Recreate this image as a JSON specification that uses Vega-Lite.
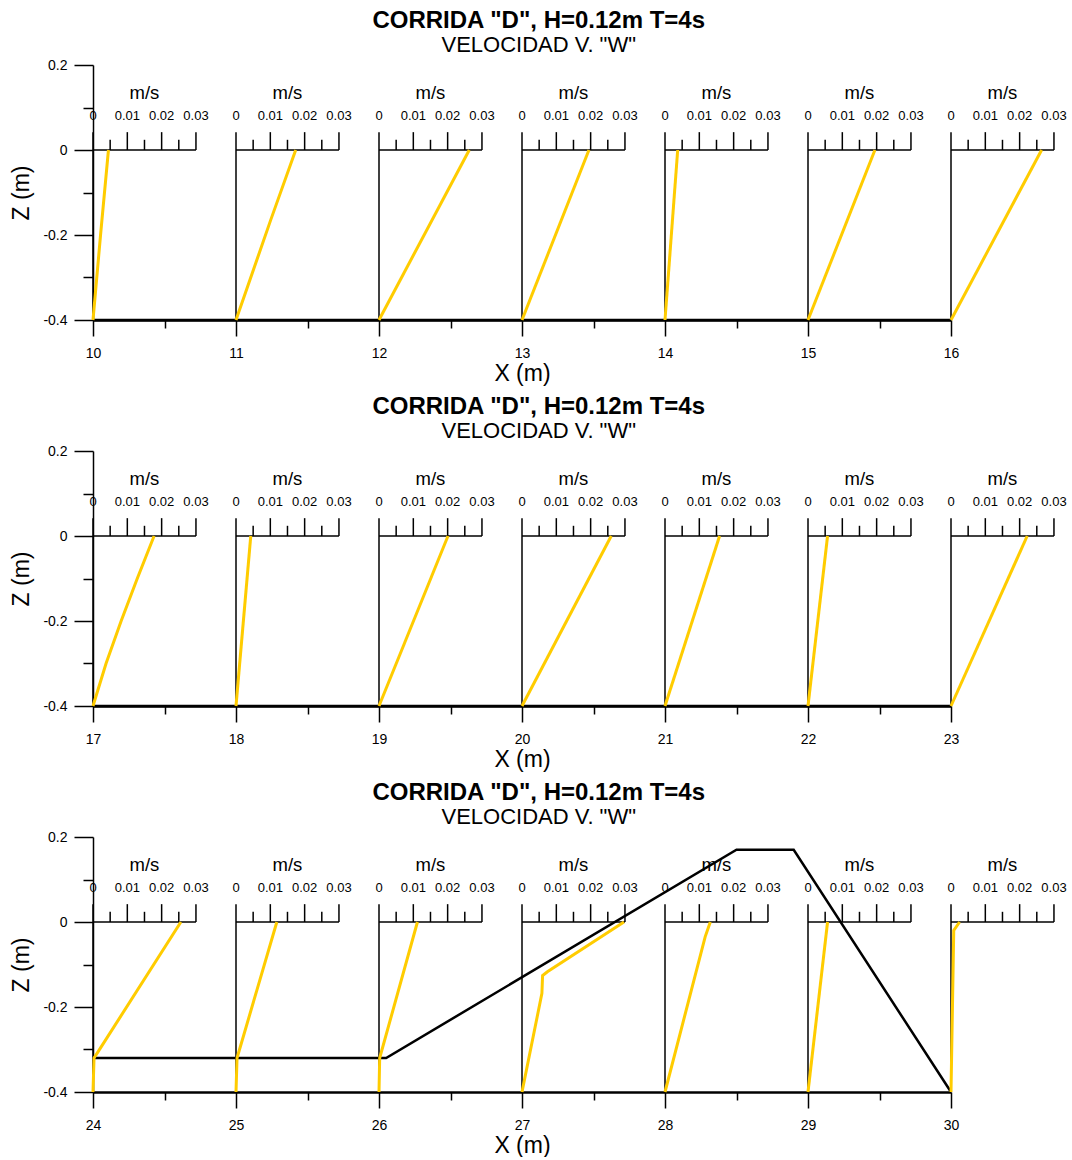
{
 "$schema": "https://vega.github.io/schema/vega-lite/v6.json",
 "padding": {"top": 9, "left": 10, "right": 2, "bottom": 0},
 "background": "white",
 "spacing": 10,
 "config": {
  "font": "Liberation Sans",
  "view": {"stroke": null},
  "axis": {"grid": false, "domainColor": "black", "tickColor": "black", "labelColor": "black", "titleColor": "black", "titleFontWeight": "normal", "labelFont": "Liberation Sans", "titleFont": "Liberation Sans", "tickWidth": 1.5, "domainWidth": 1.5},
  "title": {"font": "Liberation Sans", "fontSize": 24, "fontWeight": "bold", "color": "black", "subtitleFont": "Liberation Sans", "subtitleFontSize": 22, "subtitleColor": "black", "subtitleFontWeight": "normal", "anchor": "middle", "frame": "bounds", "offset": 2, "subtitlePadding": 2}
 },
 "datasets": {
  "stations": [
   {"panel": 1, "station": 10, "ticks": [0, 0.005, 0.01, 0.015, 0.02, 0.025, 0.03]},
   {"panel": 1, "station": 11, "ticks": [0, 0.005, 0.01, 0.015, 0.02, 0.025, 0.03]},
   {"panel": 1, "station": 12, "ticks": [0, 0.005, 0.01, 0.015, 0.02, 0.025, 0.03]},
   {"panel": 1, "station": 13, "ticks": [0, 0.005, 0.01, 0.015, 0.02, 0.025, 0.03]},
   {"panel": 1, "station": 14, "ticks": [0, 0.005, 0.01, 0.015, 0.02, 0.025, 0.03]},
   {"panel": 1, "station": 15, "ticks": [0, 0.005, 0.01, 0.015, 0.02, 0.025, 0.03]},
   {"panel": 1, "station": 16, "ticks": [0, 0.005, 0.01, 0.015, 0.02, 0.025, 0.03]},
   {"panel": 2, "station": 17, "ticks": [0, 0.005, 0.01, 0.015, 0.02, 0.025, 0.03]},
   {"panel": 2, "station": 18, "ticks": [0, 0.005, 0.01, 0.015, 0.02, 0.025, 0.03]},
   {"panel": 2, "station": 19, "ticks": [0, 0.005, 0.01, 0.015, 0.02, 0.025, 0.03]},
   {"panel": 2, "station": 20, "ticks": [0, 0.005, 0.01, 0.015, 0.02, 0.025, 0.03]},
   {"panel": 2, "station": 21, "ticks": [0, 0.005, 0.01, 0.015, 0.02, 0.025, 0.03]},
   {"panel": 2, "station": 22, "ticks": [0, 0.005, 0.01, 0.015, 0.02, 0.025, 0.03]},
   {"panel": 2, "station": 23, "ticks": [0, 0.005, 0.01, 0.015, 0.02, 0.025, 0.03]},
   {"panel": 3, "station": 24, "ticks": [0, 0.005, 0.01, 0.015, 0.02, 0.025, 0.03]},
   {"panel": 3, "station": 25, "ticks": [0, 0.005, 0.01, 0.015, 0.02, 0.025, 0.03]},
   {"panel": 3, "station": 26, "ticks": [0, 0.005, 0.01, 0.015, 0.02, 0.025, 0.03]},
   {"panel": 3, "station": 27, "ticks": [0, 0.005, 0.01, 0.015, 0.02, 0.025, 0.03]},
   {"panel": 3, "station": 28, "ticks": [0, 0.005, 0.01, 0.015, 0.02, 0.025, 0.03]},
   {"panel": 3, "station": 29, "ticks": [0, 0.005, 0.01, 0.015, 0.02, 0.025, 0.03]},
   {"panel": 3, "station": 30, "ticks": [0, 0.005, 0.01, 0.015, 0.02, 0.025, 0.03]}
  ],
  "profiles": [
   {"panel": 1, "station": 10, "z": -0.4, "w": 0}, {"panel": 1, "station": 10, "z": -0.2, "w": 0.0022}, {"panel": 1, "station": 10, "z": 0, "w": 0.0045},
   {"panel": 1, "station": 11, "z": -0.4, "w": 0}, {"panel": 1, "station": 11, "z": -0.165, "w": 0.0101}, {"panel": 1, "station": 11, "z": 0, "w": 0.0174},
   {"panel": 1, "station": 12, "z": -0.4, "w": 0}, {"panel": 1, "station": 12, "z": 0, "w": 0.0263},
   {"panel": 1, "station": 13, "z": -0.4, "w": 0}, {"panel": 1, "station": 13, "z": 0, "w": 0.0195},
   {"panel": 1, "station": 14, "z": -0.4, "w": 0}, {"panel": 1, "station": 14, "z": 0, "w": 0.0037},
   {"panel": 1, "station": 15, "z": -0.4, "w": 0}, {"panel": 1, "station": 15, "z": 0, "w": 0.0195},
   {"panel": 1, "station": 16, "z": -0.4, "w": 0}, {"panel": 1, "station": 16, "z": 0, "w": 0.0264},
   {"panel": 2, "station": 17, "z": -0.4, "w": 0}, {"panel": 2, "station": 17, "z": -0.3, "w": 0.0038}, {"panel": 2, "station": 17, "z": -0.2, "w": 0.0082}, {"panel": 2, "station": 17, "z": -0.1, "w": 0.0129}, {"panel": 2, "station": 17, "z": 0, "w": 0.0178},
   {"panel": 2, "station": 18, "z": -0.4, "w": 0}, {"panel": 2, "station": 18, "z": 0, "w": 0.0043},
   {"panel": 2, "station": 19, "z": -0.4, "w": 0}, {"panel": 2, "station": 19, "z": 0, "w": 0.0201},
   {"panel": 2, "station": 20, "z": -0.4, "w": 0}, {"panel": 2, "station": 20, "z": 0, "w": 0.026},
   {"panel": 2, "station": 21, "z": -0.4, "w": 0}, {"panel": 2, "station": 21, "z": 0, "w": 0.0159},
   {"panel": 2, "station": 22, "z": -0.4, "w": 0}, {"panel": 2, "station": 22, "z": 0, "w": 0.0057},
   {"panel": 2, "station": 23, "z": -0.4, "w": 0}, {"panel": 2, "station": 23, "z": 0, "w": 0.0222},
   {"panel": 3, "station": 24, "z": -0.4, "w": 0}, {"panel": 3, "station": 24, "z": -0.32, "w": 0.0003}, {"panel": 3, "station": 24, "z": -0.305, "w": 0.0015}, {"panel": 3, "station": 24, "z": 0, "w": 0.0256},
   {"panel": 3, "station": 25, "z": -0.4, "w": 0}, {"panel": 3, "station": 25, "z": -0.32, "w": 0.0003}, {"panel": 3, "station": 25, "z": 0, "w": 0.0119},
   {"panel": 3, "station": 26, "z": -0.4, "w": 0}, {"panel": 3, "station": 26, "z": -0.32, "w": 0.0002}, {"panel": 3, "station": 26, "z": 0, "w": 0.0112},
   {"panel": 3, "station": 27, "z": -0.4, "w": 0}, {"panel": 3, "station": 27, "z": -0.168, "w": 0.0058}, {"panel": 3, "station": 27, "z": -0.126, "w": 0.006}, {"panel": 3, "station": 27, "z": -0.117, "w": 0.0074}, {"panel": 3, "station": 27, "z": 0, "w": 0.0297},
   {"panel": 3, "station": 28, "z": -0.4, "w": 0}, {"panel": 3, "station": 28, "z": -0.035, "w": 0.0117}, {"panel": 3, "station": 28, "z": 0, "w": 0.0132},
   {"panel": 3, "station": 29, "z": -0.4, "w": 0}, {"panel": 3, "station": 29, "z": 0, "w": 0.0057},
   {"panel": 3, "station": 30, "z": -0.4, "w": 0}, {"panel": 3, "station": 30, "z": -0.02, "w": 0.0008}, {"panel": 3, "station": 30, "z": 0, "w": 0.0025}
  ],
  "bed": [
   {"panel": 1, "x": 10, "z": -0.4}, {"panel": 1, "x": 16, "z": -0.4},
   {"panel": 2, "x": 17, "z": -0.4}, {"panel": 2, "x": 23, "z": -0.4},
   {"panel": 3, "x": 24, "z": -0.32}, {"panel": 3, "x": 26.05, "z": -0.32}, {"panel": 3, "x": 28.5, "z": 0.17}, {"panel": 3, "x": 28.9, "z": 0.17}, {"panel": 3, "x": 30, "z": -0.4}
  ]
 },
 "vconcat": [
  {
   "title": {"text": "CORRIDA \"D\", H=0.12m T=4s", "subtitle": "VELOCIDAD V. \"W\""},
   "width": 858, "height": 255,
   "encoding": {
    "x": {"field": "x", "type": "quantitative", "scale": {"domain": [10, 16], "nice": false, "zero": false},
     "axis": {"title": "X (m)", "values": [10, 10.5, 11, 11.5, 12, 12.5, 13, 13.5, 14, 14.5, 15, 15.5, 16], "format": "~g", "labelExpr": "datum.value % 1 == 0 ? datum.label : ''", "tickSize": {"condition": {"test": "datum.value % 1 == 0", "value": 16}, "value": 8}, "labelFontSize": 14, "labelPadding": 10, "labelOverlap": false, "labelFlush": false, "titleFontSize": 23, "titlePadding": 2, "domainWidth": 2.5}}
   },
   "layer": [
    {"data": {"name": "stations"}, "transform": [{"filter": "datum.panel == 1"}, {"calculate": "datum.station", "as": "x"}],
     "mark": {"type": "rule", "color": "black", "strokeWidth": 1.5},
     "encoding": {"y": {"datum": -0.4, "type": "quantitative"}, "y2": {"datum": 0}}},
    {"data": {"name": "stations"}, "transform": [{"filter": "datum.panel == 1"}, {"calculate": "datum.station", "as": "x"}, {"calculate": "datum.station + 0.72", "as": "x2"}],
     "mark": {"type": "rule", "color": "black", "strokeWidth": 1.5},
     "encoding": {"y": {"datum": 0, "type": "quantitative"}, "x2": {"field": "x2"}}},
    {"data": {"name": "stations"}, "transform": [{"filter": "datum.panel == 1"}, {"flatten": ["ticks"], "as": ["v"]}, {"filter": "round(datum.v * 200) % 2 == 0"}, {"calculate": "datum.station + datum.v * 24", "as": "x"}],
     "mark": {"type": "rule", "color": "black", "strokeWidth": 1.5},
     "encoding": {"y": {"datum": 0, "type": "quantitative"}, "y2": {"datum": 0.042}}},
    {"data": {"name": "stations"}, "transform": [{"filter": "datum.panel == 1"}, {"flatten": ["ticks"], "as": ["v"]}, {"filter": "round(datum.v * 200) % 2 == 1"}, {"calculate": "datum.station + datum.v * 24", "as": "x"}],
     "mark": {"type": "rule", "color": "black", "strokeWidth": 1.5},
     "encoding": {"y": {"datum": 0, "type": "quantitative"}, "y2": {"datum": 0.024}}},
    {"data": {"name": "stations"}, "transform": [{"filter": "datum.panel == 1"}, {"flatten": ["ticks"], "as": ["v"]}, {"filter": "round(datum.v * 200) % 2 == 0"}, {"calculate": "datum.station + datum.v * 24", "as": "x"}],
     "mark": {"type": "text", "fontSize": 13, "color": "black", "baseline": "middle", "align": "center"},
     "encoding": {"y": {"datum": 0.08, "type": "quantitative"}, "text": {"field": "v", "type": "quantitative", "format": "~g"}}},
    {"data": {"name": "stations"}, "transform": [{"filter": "datum.panel == 1"}, {"calculate": "datum.station + 0.36", "as": "x"}],
     "mark": {"type": "text", "text": "m/s", "fontSize": 18.5, "color": "black", "baseline": "middle", "align": "center"},
     "encoding": {"y": {"datum": 0.135, "type": "quantitative"}}},
    {"data": {"name": "bed"}, "transform": [{"filter": "datum.panel == 1"}],
     "mark": {"type": "line", "color": "black", "strokeWidth": 2.5},
     "encoding": {"order": {"field": "x", "type": "quantitative"},
      "y": {"field": "z", "type": "quantitative", "scale": {"domain": [-0.4, 0.2], "nice": false, "zero": false},
       "axis": {"title": "Z (m)", "values": [-0.4, -0.3, -0.2, -0.1, 0, 0.1, 0.2], "format": "~g", "labelExpr": "round(datum.value * 10) % 2 == 0 ? replace(datum.label, '−', '-') : ''", "tickSize": {"condition": {"test": "round(datum.value * 10) % 2 == 0", "value": 19}, "value": 10}, "labelFontSize": 14, "labelPadding": 7, "labelOverlap": false, "labelFlush": false, "titleFontSize": 23, "titlePadding": 9}}}},
    {"data": {"name": "profiles"}, "transform": [{"filter": "datum.panel == 1"}, {"calculate": "datum.station + datum.w * 24", "as": "x"}],
     "mark": {"type": "line", "color": "#FFCC00", "strokeWidth": 3},
     "encoding": {"detail": {"field": "station", "type": "nominal"}, "order": {"field": "z", "type": "quantitative"},
      "y": {"field": "z", "type": "quantitative", "scale": {"domain": [-0.4, 0.2], "nice": false, "zero": false},
       "axis": {"title": "Z (m)", "values": [-0.4, -0.3, -0.2, -0.1, 0, 0.1, 0.2], "format": "~g", "labelExpr": "round(datum.value * 10) % 2 == 0 ? replace(datum.label, '−', '-') : ''", "tickSize": {"condition": {"test": "round(datum.value * 10) % 2 == 0", "value": 19}, "value": 10}, "labelFontSize": 14, "labelPadding": 7, "labelOverlap": false, "labelFlush": false, "titleFontSize": 23, "titlePadding": 9}}}}
   ]
  },
  {
   "title": {"text": "CORRIDA \"D\", H=0.12m T=4s", "subtitle": "VELOCIDAD V. \"W\""},
   "width": 858, "height": 255,
   "encoding": {
    "x": {"field": "x", "type": "quantitative", "scale": {"domain": [17, 23], "nice": false, "zero": false},
     "axis": {"title": "X (m)", "values": [17, 17.5, 18, 18.5, 19, 19.5, 20, 20.5, 21, 21.5, 22, 22.5, 23], "format": "~g", "labelExpr": "datum.value % 1 == 0 ? datum.label : ''", "tickSize": {"condition": {"test": "datum.value % 1 == 0", "value": 16}, "value": 8}, "labelFontSize": 14, "labelPadding": 10, "labelOverlap": false, "labelFlush": false, "titleFontSize": 23, "titlePadding": 2, "domainWidth": 2.5}}
   },
   "layer": [
    {"data": {"name": "stations"}, "transform": [{"filter": "datum.panel == 2"}, {"calculate": "datum.station", "as": "x"}],
     "mark": {"type": "rule", "color": "black", "strokeWidth": 1.5},
     "encoding": {"y": {"datum": -0.4, "type": "quantitative"}, "y2": {"datum": 0}}},
    {"data": {"name": "stations"}, "transform": [{"filter": "datum.panel == 2"}, {"calculate": "datum.station", "as": "x"}, {"calculate": "datum.station + 0.72", "as": "x2"}],
     "mark": {"type": "rule", "color": "black", "strokeWidth": 1.5},
     "encoding": {"y": {"datum": 0, "type": "quantitative"}, "x2": {"field": "x2"}}},
    {"data": {"name": "stations"}, "transform": [{"filter": "datum.panel == 2"}, {"flatten": ["ticks"], "as": ["v"]}, {"filter": "round(datum.v * 200) % 2 == 0"}, {"calculate": "datum.station + datum.v * 24", "as": "x"}],
     "mark": {"type": "rule", "color": "black", "strokeWidth": 1.5},
     "encoding": {"y": {"datum": 0, "type": "quantitative"}, "y2": {"datum": 0.042}}},
    {"data": {"name": "stations"}, "transform": [{"filter": "datum.panel == 2"}, {"flatten": ["ticks"], "as": ["v"]}, {"filter": "round(datum.v * 200) % 2 == 1"}, {"calculate": "datum.station + datum.v * 24", "as": "x"}],
     "mark": {"type": "rule", "color": "black", "strokeWidth": 1.5},
     "encoding": {"y": {"datum": 0, "type": "quantitative"}, "y2": {"datum": 0.024}}},
    {"data": {"name": "stations"}, "transform": [{"filter": "datum.panel == 2"}, {"flatten": ["ticks"], "as": ["v"]}, {"filter": "round(datum.v * 200) % 2 == 0"}, {"calculate": "datum.station + datum.v * 24", "as": "x"}],
     "mark": {"type": "text", "fontSize": 13, "color": "black", "baseline": "middle", "align": "center"},
     "encoding": {"y": {"datum": 0.08, "type": "quantitative"}, "text": {"field": "v", "type": "quantitative", "format": "~g"}}},
    {"data": {"name": "stations"}, "transform": [{"filter": "datum.panel == 2"}, {"calculate": "datum.station + 0.36", "as": "x"}],
     "mark": {"type": "text", "text": "m/s", "fontSize": 18.5, "color": "black", "baseline": "middle", "align": "center"},
     "encoding": {"y": {"datum": 0.135, "type": "quantitative"}}},
    {"data": {"name": "bed"}, "transform": [{"filter": "datum.panel == 2"}],
     "mark": {"type": "line", "color": "black", "strokeWidth": 2.5},
     "encoding": {"order": {"field": "x", "type": "quantitative"},
      "y": {"field": "z", "type": "quantitative", "scale": {"domain": [-0.4, 0.2], "nice": false, "zero": false},
       "axis": {"title": "Z (m)", "values": [-0.4, -0.3, -0.2, -0.1, 0, 0.1, 0.2], "format": "~g", "labelExpr": "round(datum.value * 10) % 2 == 0 ? replace(datum.label, '−', '-') : ''", "tickSize": {"condition": {"test": "round(datum.value * 10) % 2 == 0", "value": 19}, "value": 10}, "labelFontSize": 14, "labelPadding": 7, "labelOverlap": false, "labelFlush": false, "titleFontSize": 23, "titlePadding": 9}}}},
    {"data": {"name": "profiles"}, "transform": [{"filter": "datum.panel == 2"}, {"calculate": "datum.station + datum.w * 24", "as": "x"}],
     "mark": {"type": "line", "color": "#FFCC00", "strokeWidth": 3},
     "encoding": {"detail": {"field": "station", "type": "nominal"}, "order": {"field": "z", "type": "quantitative"},
      "y": {"field": "z", "type": "quantitative", "scale": {"domain": [-0.4, 0.2], "nice": false, "zero": false},
       "axis": {"title": "Z (m)", "values": [-0.4, -0.3, -0.2, -0.1, 0, 0.1, 0.2], "format": "~g", "labelExpr": "round(datum.value * 10) % 2 == 0 ? replace(datum.label, '−', '-') : ''", "tickSize": {"condition": {"test": "round(datum.value * 10) % 2 == 0", "value": 19}, "value": 10}, "labelFontSize": 14, "labelPadding": 7, "labelOverlap": false, "labelFlush": false, "titleFontSize": 23, "titlePadding": 9}}}}
   ]
  },
  {
   "title": {"text": "CORRIDA \"D\", H=0.12m T=4s", "subtitle": "VELOCIDAD V. \"W\""},
   "width": 858, "height": 255,
   "encoding": {
    "x": {"field": "x", "type": "quantitative", "scale": {"domain": [24, 30], "nice": false, "zero": false},
     "axis": {"title": "X (m)", "values": [24, 24.5, 25, 25.5, 26, 26.5, 27, 27.5, 28, 28.5, 29, 29.5, 30], "format": "~g", "labelExpr": "datum.value % 1 == 0 ? datum.label : ''", "tickSize": {"condition": {"test": "datum.value % 1 == 0", "value": 16}, "value": 8}, "labelFontSize": 14, "labelPadding": 10, "labelOverlap": false, "labelFlush": false, "titleFontSize": 23, "titlePadding": 2, "domainWidth": 2.5}}
   },
   "layer": [
    {"data": {"name": "stations"}, "transform": [{"filter": "datum.panel == 3"}, {"calculate": "datum.station", "as": "x"}],
     "mark": {"type": "rule", "color": "black", "strokeWidth": 1.5},
     "encoding": {"y": {"datum": -0.4, "type": "quantitative"}, "y2": {"datum": 0}}},
    {"data": {"name": "stations"}, "transform": [{"filter": "datum.panel == 3"}, {"calculate": "datum.station", "as": "x"}, {"calculate": "datum.station + 0.72", "as": "x2"}],
     "mark": {"type": "rule", "color": "black", "strokeWidth": 1.5},
     "encoding": {"y": {"datum": 0, "type": "quantitative"}, "x2": {"field": "x2"}}},
    {"data": {"name": "stations"}, "transform": [{"filter": "datum.panel == 3"}, {"flatten": ["ticks"], "as": ["v"]}, {"filter": "round(datum.v * 200) % 2 == 0"}, {"calculate": "datum.station + datum.v * 24", "as": "x"}],
     "mark": {"type": "rule", "color": "black", "strokeWidth": 1.5},
     "encoding": {"y": {"datum": 0, "type": "quantitative"}, "y2": {"datum": 0.042}}},
    {"data": {"name": "stations"}, "transform": [{"filter": "datum.panel == 3"}, {"flatten": ["ticks"], "as": ["v"]}, {"filter": "round(datum.v * 200) % 2 == 1"}, {"calculate": "datum.station + datum.v * 24", "as": "x"}],
     "mark": {"type": "rule", "color": "black", "strokeWidth": 1.5},
     "encoding": {"y": {"datum": 0, "type": "quantitative"}, "y2": {"datum": 0.024}}},
    {"data": {"name": "stations"}, "transform": [{"filter": "datum.panel == 3"}, {"flatten": ["ticks"], "as": ["v"]}, {"filter": "round(datum.v * 200) % 2 == 0"}, {"calculate": "datum.station + datum.v * 24", "as": "x"}],
     "mark": {"type": "text", "fontSize": 13, "color": "black", "baseline": "middle", "align": "center"},
     "encoding": {"y": {"datum": 0.08, "type": "quantitative"}, "text": {"field": "v", "type": "quantitative", "format": "~g"}}},
    {"data": {"name": "stations"}, "transform": [{"filter": "datum.panel == 3"}, {"calculate": "datum.station + 0.36", "as": "x"}],
     "mark": {"type": "text", "text": "m/s", "fontSize": 18.5, "color": "black", "baseline": "middle", "align": "center"},
     "encoding": {"y": {"datum": 0.135, "type": "quantitative"}}},
    {"data": {"name": "bed"}, "transform": [{"filter": "datum.panel == 3"}],
     "mark": {"type": "line", "color": "black", "strokeWidth": 2.5},
     "encoding": {"order": {"field": "x", "type": "quantitative"},
      "y": {"field": "z", "type": "quantitative", "scale": {"domain": [-0.4, 0.2], "nice": false, "zero": false},
       "axis": {"title": "Z (m)", "values": [-0.4, -0.3, -0.2, -0.1, 0, 0.1, 0.2], "format": "~g", "labelExpr": "round(datum.value * 10) % 2 == 0 ? replace(datum.label, '−', '-') : ''", "tickSize": {"condition": {"test": "round(datum.value * 10) % 2 == 0", "value": 19}, "value": 10}, "labelFontSize": 14, "labelPadding": 7, "labelOverlap": false, "labelFlush": false, "titleFontSize": 23, "titlePadding": 9}}}},
    {"data": {"name": "profiles"}, "transform": [{"filter": "datum.panel == 3"}, {"calculate": "datum.station + datum.w * 24", "as": "x"}],
     "mark": {"type": "line", "color": "#FFCC00", "strokeWidth": 3},
     "encoding": {"detail": {"field": "station", "type": "nominal"}, "order": {"field": "z", "type": "quantitative"},
      "y": {"field": "z", "type": "quantitative", "scale": {"domain": [-0.4, 0.2], "nice": false, "zero": false},
       "axis": {"title": "Z (m)", "values": [-0.4, -0.3, -0.2, -0.1, 0, 0.1, 0.2], "format": "~g", "labelExpr": "round(datum.value * 10) % 2 == 0 ? replace(datum.label, '−', '-') : ''", "tickSize": {"condition": {"test": "round(datum.value * 10) % 2 == 0", "value": 19}, "value": 10}, "labelFontSize": 14, "labelPadding": 7, "labelOverlap": false, "labelFlush": false, "titleFontSize": 23, "titlePadding": 9}}}}
   ]
  }
 ]
}
